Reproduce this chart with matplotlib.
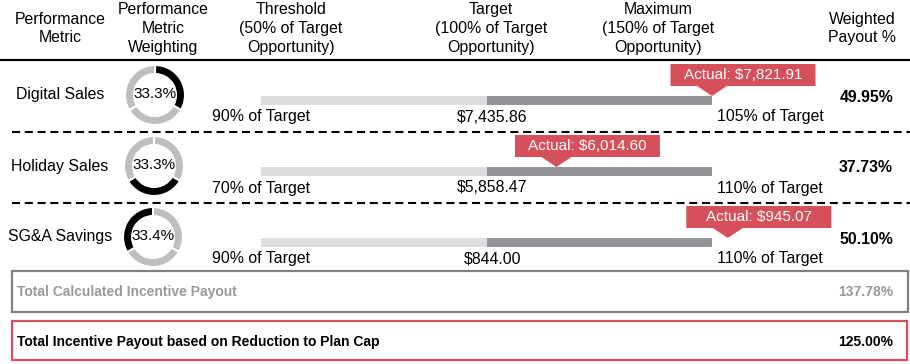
import matplotlib
matplotlib.use("Agg")
import matplotlib.pyplot as plt
from matplotlib import font_manager, transforms
from matplotlib.patches import Rectangle, Polygon

# values
metrics = ["Digital Sales", "Holiday Sales", "SG&A Savings"]
weights = [33.3, 33.3, 33.4]
threshold_labels = ["90% of Target", "70% of Target", "90% of Target"]
target_labels = ["$7,435.86", "$5,858.47", "$844.00"]
max_labels = ["105% of Target", "110% of Target", "110% of Target"]
actual_labels = ["Actual: $7,821.91", "Actual: $6,014.60", "Actual: $945.07"]
actual_pos = [150.0, 115.5, 153.5]   # where each callout points, on the opportunity scale
weighted_payout = [49.95, 37.73, 50.10]
opportunity = [50, 100, 150]          # threshold, target, maximum (% of target opportunity)
total_calculated = 137.78
total_capped = 125.00

headers = ["Performance\nMetric", "Performance\nMetric\nWeighting",
           "Threshold\n(50% of Target\nOpportunity)", "Target\n(100% of Target\nOpportunity)",
           "Maximum\n(150% of Target\nOpportunity)", "Weighted\nPayout %"]
header_x = [60, 163, 291, 491, 658, 862]

LIGHT = "#dcddde"
DARK = "#939598"
RING = "#bcbec0"
RED = "#d5505a"

W, H = 910, 364
row_y = [95, 166, 237]
FS = 11.4

plt.rcParams['font.family'] = ['Liberation Sans', 'DejaVu Sans']
plt.rcParams['lines.scale_dashes'] = False

names = {f.name for f in font_manager.fontManager.ttflist}
if 'Liberation Sans Narrow' in names:
    total_font = dict(family=['Liberation Sans Narrow', 'DejaVu Sans'], fontsize=10.5)
else:
    total_font = dict(fontsize=10)

fig = plt.figure(figsize=(W / 100, H / 100), dpi=100)
ax = fig.add_axes([0, 0, 1, 1])
ax.set_xlim(0, W)
ax.set_ylim(H, 0)
ax.axis('off')

# bars live on their own axes, scaled threshold..maximum
bar_left, bar_right = 261, 712
axb = fig.add_axes([bar_left / W, 0, (bar_right - bar_left) / W, 1])
axb.set_xlim(opportunity[0], opportunity[-1])
axb.set_ylim(H, 0)
axb.axis('off')

# header
for x, s in zip(header_x, headers):
    ax.text(x, 28.5, s, ha='center', va='center', fontsize=FS, linespacing=1.3)
ax.plot([0, W], [60, 60], color='black', lw=1.6, solid_capstyle='butt')

target_tr = transforms.offset_copy(axb.transData, fig=fig, x=6, y=0, units='dots')
max_tr = transforms.offset_copy(axb.transData, fig=fig, x=5, y=0, units='dots')

for i in range(len(metrics)):
    y = row_y[i]
    ax.text(60, y, metrics[i], ha='center', va='center', fontsize=FS)

    # weighting donut
    size = 30 * 2.5
    cx = 155 - i
    axd = fig.add_axes([(cx - size / 2) / W, (H - y - size / 2) / H, size / W, size / H])
    colors = ['black' if j == i else RING for j in range(len(weights))]
    axd.pie(weights, colors=colors, startangle=90, counterclock=False, radius=1,
            wedgeprops=dict(width=0.3, edgecolor='white', linewidth=1.5))
    axd.text(0, 0.02, f"{weights[i]:.1f}%", ha='center', va='center', fontsize=11)

    # threshold -> target -> maximum bar
    yb = y + 5.5
    axb.barh(yb, opportunity[1] - opportunity[0], left=opportunity[0], height=9, color=LIGHT)
    axb.barh(yb, opportunity[2] - opportunity[1], left=opportunity[1], height=9, color=DARK)
    axb.text(opportunity[0], y + 22, threshold_labels[i], ha='center', va='center', fontsize=FS)
    axb.text(opportunity[1], y + 22, target_labels[i], ha='center', va='center',
             fontsize=FS, transform=target_tr)
    axb.text(opportunity[2], y + 22, max_labels[i], ha='left', va='center',
             fontsize=FS, transform=max_tr)

    # actual callout
    tip_x = ax.transData.inverted().transform(axb.transData.transform((actual_pos[i], 0)))[0]
    tip_y = y + 1
    bx = tip_x + 31
    x0, x1 = bx - 72.5, bx + 72.5
    top, bot = y - 31, y - 9
    verts = [(x0, top), (x1, top), (x1, bot), (tip_x + 15, bot), (tip_x, tip_y),
             (tip_x - 15, bot), (x0, bot)]
    ax.add_patch(Polygon(verts, closed=True, facecolor=RED, edgecolor='none'))
    ax.text(bx, (top + bot) / 2, actual_labels[i], ha='center', va='center',
            fontsize=11, color='white')

    ax.text(893, y + 2, f"{weighted_payout[i]:.2f}%", ha='right', va='center',
            fontsize=FS, fontweight='bold')

    if i < len(metrics) - 1:
        ax.plot([12, W], [y + 36.5, y + 36.5], color='black', lw=1.5,
                linestyle=(0, (5.8, 3.4)))

# totals
ax.add_patch(Rectangle((12, 271), 896, 41, fill=False, edgecolor='#808080', lw=1.6))
ax.text(17, 292, "Total Calculated Incentive Payout", ha='left', va='center',
        color='#999999', fontweight='bold', **total_font)
ax.text(893, 292, f"{total_calculated:.2f}%", ha='right', va='center',
        color='#999999', fontweight='bold', **total_font)

ax.add_patch(Rectangle((12, 321), 895, 39, fill=False, edgecolor=RED, lw=1.6))
ax.text(17, 342, "Total Incentive Payout based on Reduction to Plan Cap", ha='left',
        va='center', color='black', fontweight='bold', **total_font)
ax.text(893, 342, f"{total_capped:.2f}%", ha='right', va='center',
        color='black', fontweight='bold', **total_font)

fig.savefig("out.png", dpi=100)
